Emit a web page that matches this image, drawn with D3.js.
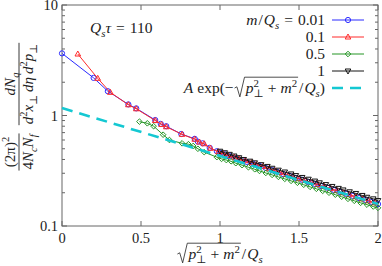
<!DOCTYPE html>
<html>
<head>
<meta charset="utf-8">
<script src="https://cdn.jsdelivr.net/npm/d3@7"></script>
<style>
  body { margin: 0; background: #fff; }
  svg text { font-family: "Liberation Serif", "DejaVu Serif", serif; fill: #222; white-space: pre; }
</style>
</head>
<body>
<div class="chart"></div>
<script>
// data
var xTicks = [0, 0.5, 1, 1.5, 2];
var xTickLabels = ["0", "0.5", "1", "1.5", "2"];
var yTicks = [0.1, 1, 10];
var yTickLabels = ["0.1", "1", "10"];
var legendLabels = ["0.01", "0.1", "0.5", "1"];
var fitA = 1.17;

var xBlue = [0, 0.2, 0.29, 0.42, 0.47, 0.59, 0.625, 0.66, 0.755, 0.84, 0.86, 0.89, 0.935, 0.98, 1.0, 1.03, 1.06, 1.1, 1.14, 1.17, 1.21, 1.25, 1.29, 1.33, 1.36, 1.4, 1.44, 1.48, 1.52, 1.56, 1.6, 1.64, 1.68, 1.72, 1.76, 1.8, 1.84, 1.88, 1.92, 1.96, 2.0];
var yBlue = [3.65, 2.19, 1.66, 1.26, 1.16, 0.91, 0.84, 0.80, 0.68, 0.615, 0.58, 0.56, 0.51, 0.475, 0.46, 0.445, 0.43, 0.41, 0.395, 0.38, 0.365, 0.35, 0.335, 0.32, 0.31, 0.295, 0.285, 0.272, 0.262, 0.25, 0.24, 0.23, 0.222, 0.212, 0.203, 0.195, 0.187, 0.179, 0.172, 0.165, 0.158];

var xRed = [0.1, 0.226, 0.306, 0.42, 0.47, 0.59, 0.63, 0.66, 0.76, 0.84, 0.87, 0.9, 0.94, 0.99, 1.02, 1.05, 1.09, 1.12, 1.16, 1.2, 1.23, 1.27, 1.31, 1.35, 1.38, 1.42, 1.46, 1.5, 1.54, 1.58, 1.62, 1.66, 1.7, 1.74, 1.78, 1.82, 1.86, 1.9, 1.94, 1.98];
var yRed = [3.6, 2.17, 1.62, 1.25, 1.15, 0.90, 0.83, 0.79, 0.675, 0.61, 0.575, 0.555, 0.505, 0.47, 0.45, 0.435, 0.42, 0.405, 0.39, 0.375, 0.36, 0.345, 0.33, 0.316, 0.305, 0.292, 0.28, 0.268, 0.258, 0.247, 0.237, 0.228, 0.218, 0.209, 0.2, 0.192, 0.184, 0.176, 0.169, 0.162];

var xGreen = [0.49, 0.54, 0.58, 0.64, 0.68, 0.76, 0.8, 0.83, 0.86, 0.9, 0.98, 1.01, 1.04, 1.07, 1.1, 1.14, 1.18, 1.22, 1.25, 1.29, 1.33, 1.37, 1.41, 1.45, 1.49, 1.53, 1.57, 1.61, 1.65, 1.69, 1.73, 1.77, 1.81, 1.85, 1.89, 1.93, 1.97, 2.0];
var yGreen = [0.88, 0.85, 0.80, 0.67, 0.60, 0.56, 0.55, 0.53, 0.50, 0.466, 0.42, 0.405, 0.395, 0.385, 0.37, 0.355, 0.34, 0.326, 0.315, 0.302, 0.29, 0.278, 0.267, 0.256, 0.246, 0.236, 0.226, 0.217, 0.208, 0.2, 0.192, 0.184, 0.176, 0.169, 0.162, 0.156, 0.15, 0.146];

var xBlack = [1.0, 1.03, 1.06, 1.09, 1.12, 1.15, 1.19, 1.22, 1.26, 1.3, 1.33, 1.37, 1.41, 1.45, 1.48, 1.52, 1.56, 1.6, 1.63, 1.67, 1.71, 1.75, 1.78, 1.82, 1.86, 1.9, 1.93, 1.97, 2.0];
var yBlack = [0.475, 0.46, 0.445, 0.43, 0.415, 0.4, 0.386, 0.373, 0.359, 0.346, 0.333, 0.32, 0.308, 0.296, 0.286, 0.275, 0.265, 0.255, 0.246, 0.237, 0.228, 0.219, 0.212, 0.204, 0.197, 0.189, 0.182, 0.176, 0.17];

//Width and height
var w = 382;
var h = 266;
var m = {left: 62, right: 4, top: 5, bottom: 40};

var svg = d3.select(".chart")
    .append("svg")
    .attr("width", w)
    .attr("height", h)
    .attr("font-family", "Liberation Serif, DejaVu Serif, serif");

var x = d3.scaleLinear().domain([0, 2]).range([m.left, w - m.right]);
var y = d3.scaleLog().domain([0.1, 10]).range([h - m.bottom, m.top]);

var series = [
    {xs: xBlue, ys: yBlue, color: "#2a2aff", shape: "circle"},
    {xs: xRed, ys: yRed, color: "#ff2a2a", shape: "tri"},
    {xs: xGreen, ys: yGreen, color: "#259525", shape: "diamond"},
    {xs: xBlack, ys: yBlack, color: "#151515", shape: "tridown"}
];

//marker symbols
function marker(g, shape, cx, cy, color) {
    if (shape == "circle") {
        g.append("circle").attr("cx", cx).attr("cy", cy).attr("r", 2.6)
            .attr("fill", "none").attr("stroke", color).attr("stroke-width", 1);
    } else {
        var p;
        if (shape == "tri") p = [[0, -3], [2.8, 2], [-2.8, 2]];
        if (shape == "tridown") p = [[0, 3], [2.8, -2], [-2.8, -2]];
        if (shape == "diamond") p = [[0, -2.8], [2.8, 0], [0, 2.8], [-2.8, 0]];
        g.append("path")
            .attr("d", "M" + p.map(q => (cx + q[0]) + "," + (cy + q[1])).join("L") + "Z")
            .attr("fill", "none").attr("stroke", color).attr("stroke-width", 1);
    }
}

//math text helper: pieces laid out left to right
function drawMath(parent, items, fs) {
    var g = parent.append("g");
    var cx = 0;
    function put(list) {
        list.forEach(it => {
            if (it.sqrt) {
                var x0 = cx;
                cx += fs * 0.72;
                put(it.sqrt);
                g.append("path")
                    .attr("d", "M" + x0 + "," + (-fs * 0.32) + "L" + (x0 + fs * 0.15) + "," + (-fs * 0.4) +
                        "L" + (x0 + fs * 0.34) + "," + (fs * 0.25) + "L" + (x0 + fs * 0.64) + "," + (-fs * 1.02) +
                        "L" + (cx + 1) + "," + (-fs * 1.02))
                    .attr("fill", "none").attr("stroke", "#222").attr("stroke-width", 0.8);
                cx += 2;
                return;
            }
            cx += (it.pre || 0);
            if (it.t) {
                var t = g.append("text").attr("x", cx).attr("y", 0)
                    .attr("font-size", fs).attr("font-style", it.i ? "italic" : "normal").text(it.t);
                cx += t.node().getComputedTextLength();
            }
            var adv = 0;
            if (it.sup) {
                var s = g.append("text").attr("x", cx).attr("y", -fs * 0.42)
                    .attr("font-size", fs * 0.7).text(it.sup);
                adv = Math.max(adv, s.node().getComputedTextLength());
            }
            if (it.sub) {
                var b = g.append("text").attr("x", cx).attr("y", fs * 0.25)
                    .attr("font-size", fs * 0.7).attr("font-style", it.subI ? "italic" : "normal").text(it.sub);
                adv = Math.max(adv, b.node().getComputedTextLength());
            }
            cx += adv + (it.sp || 0);
        });
    }
    put(items);
    return {g: g, w: cx};
}

//frame and ticks
var plot = svg.append("g");
var axisColor = "#666";

xTicks.forEach((v, i) => {
    plot.append("line").attr("x1", x(v)).attr("x2", x(v)).attr("y1", y(0.1)).attr("y2", y(0.1) - 5)
        .attr("stroke", axisColor);
    plot.append("line").attr("x1", x(v)).attr("x2", x(v)).attr("y1", y(10)).attr("y2", y(10) + 5)
        .attr("stroke", axisColor);
    svg.append("text").attr("x", x(v)).attr("y", y(0.1) + 17).attr("text-anchor", "middle")
        .attr("font-size", 14.5).text(xTickLabels[i]);
});

var minor = [];
[0.1, 1].forEach(d => { for (var k = 2; k <= 9; k++) minor.push(d * k); });
minor.forEach(v => {
    plot.append("line").attr("x1", x(0)).attr("x2", x(0) + 3).attr("y1", y(v)).attr("y2", y(v)).attr("stroke", axisColor);
    plot.append("line").attr("x1", x(2)).attr("x2", x(2) - 3).attr("y1", y(v)).attr("y2", y(v)).attr("stroke", axisColor);
});
yTicks.forEach((v, i) => {
    plot.append("line").attr("x1", x(0)).attr("x2", x(0) + 5).attr("y1", y(v)).attr("y2", y(v)).attr("stroke", axisColor);
    plot.append("line").attr("x1", x(2)).attr("x2", x(2) - 5).attr("y1", y(v)).attr("y2", y(v)).attr("stroke", axisColor);
    svg.append("text").attr("x", x(0) - 4).attr("y", y(v) + 5).attr("text-anchor", "end")
        .attr("font-size", 14.5).text(yTickLabels[i]);
});

plot.append("rect").attr("x", x(0)).attr("y", y(10)).attr("width", x(2) - x(0)).attr("height", y(0.1) - y(10))
    .attr("fill", "none").attr("stroke", axisColor).attr("stroke-width", 1);

//data series
var line = d3.line().x(d => x(d[0])).y(d => y(d[1]));
var dataG = svg.append("g");
series.forEach(s => {
    var pts = s.xs.map((v, i) => [v, s.ys[i]]);
    dataG.append("path").attr("d", line(pts)).attr("fill", "none")
        .attr("stroke", s.color).attr("stroke-width", 1);
    pts.forEach(p => marker(dataG, s.shape, x(p[0]), y(p[1]), s.color));
});

//fit line A exp(-x)
var fitX = [0, 2];
svg.append("path")
    .attr("d", line(fitX.map(v => [v, fitA * Math.exp(-v)])))
    .attr("fill", "none").attr("stroke", "#14c8d2").attr("stroke-width", 2.6)
    .attr("stroke-dasharray", "11,7");

var FS = 15.5;

//Q_s tau label
var qt = drawMath(svg, [{t: "Q", i: true, sub: "s", subI: true}, {t: "τ", i: true, sp: 5}, {t: "=", sp: 5}, {t: "110"}], FS);
qt.g.attr("transform", "translate(90, 33)");

//legend
var legX = 325, legY = [20, 37, 54, 71, 88];
var legItems = [
    [{t: "m", i: true, sp: 1}, {t: "/", sp: 1}, {t: "Q", i: true, sub: "s", subI: true, sp: 5}, {t: "=", sp: 5}, {t: legendLabels[0]}],
    [{t: legendLabels[1]}], [{t: legendLabels[2]}], [{t: legendLabels[3]}]
];
legItems.forEach((it, i) => {
    var r = drawMath(svg, it, FS);
    r.g.attr("transform", "translate(" + (legX - r.w) + "," + (legY[i] + 5) + ")");
    svg.append("line").attr("x1", 332).attr("x2", 364).attr("y1", legY[i]).attr("y2", legY[i])
        .attr("stroke", series[i].color).attr("stroke-width", 1);
    marker(svg, series[i].shape, 348, legY[i], series[i].color);
});
var fitLeg = drawMath(svg, [{t: "A", i: true, sp: 4}, {t: "exp(−", sp: 1},
    {sqrt: [{t: "p", i: true, sup: "2", sub: "⊥", sp: 4}, {t: "+", sp: 4}, {t: "m", i: true, sup: "2"}]},
    {t: "/", sp: 1}, {t: "Q", i: true, sub: "s", subI: true}, {t: ")"}], FS);
fitLeg.g.attr("transform", "translate(" + (legX - fitLeg.w) + "," + (legY[4] + 5) + ")");
svg.append("line").attr("x1", 332).attr("x2", 364).attr("y1", legY[4]).attr("y2", legY[4])
    .attr("stroke", "#14c8d2").attr("stroke-width", 2.6).attr("stroke-dasharray", "11,7");

//x axis title
var xt = drawMath(svg, [{sqrt: [{t: "p", i: true, sup: "2", sub: "⊥", sp: 4}, {t: "+", sp: 4}, {t: "m", i: true, sup: "2"}]},
    {t: "/", sp: 1}, {t: "Q", i: true, sub: "s", subI: true}], FS);
xt.g.attr("transform", "translate(" + (220 - xt.w / 2) + ",259)");

//y axis title, rotated fractions
var yt = svg.append("g").attr("transform", "translate(19,118) rotate(-90)");
function fraction(cxl, num, den, fs) {
    var a = drawMath(yt, num, fs);
    var b = drawMath(yt, den, fs);
    var bw = Math.max(a.w, b.w) + 2;
    a.g.attr("transform", "translate(" + (cxl - a.w / 2) + ",-4)");
    b.g.attr("transform", "translate(" + (cxl - b.w / 2) + "," + (fs * 0.8 + 2) + ")");
    yt.append("line").attr("x1", cxl - bw / 2).attr("x2", cxl + bw / 2).attr("y1", 0).attr("y2", 0)
        .attr("stroke", "#222").attr("stroke-width", 0.9);
}
fraction(-34, [{t: "(2π)", sup: "2"}], [{t: "4"}, {t: "N", i: true, sub: "c", subI: true}, {t: "N", i: true, sub: "f", subI: true}], 15);
fraction(34, [{t: "dN", i: true, sub: "q", subI: true}],
    [{t: "d", i: true, sup: "2"}, {t: "x", i: true, sub: "⊥", sp: 3}, {t: "dη", i: true, sp: 3}, {t: "d", i: true, sup: "2"}, {t: "p", i: true, sub: "⊥"}], 15);
</script>
</body>
</html>
